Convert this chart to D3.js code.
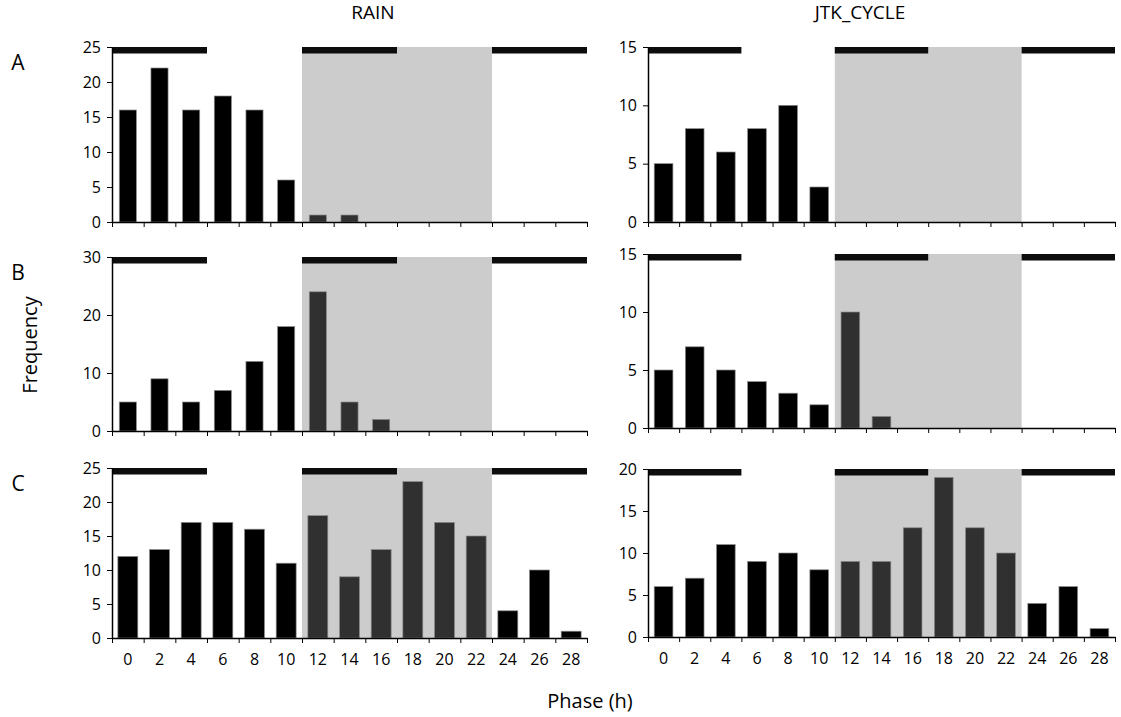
<html>
<script src='https://d3js.org/d3.v7.min.js'></script>
<style>
 body {margin:0; background:#fff;}
 text {font-family: 'Open Sans', sans-serif; fill:#000;}
 .axis path, .axis line {stroke:#000;}
</style>
<body onload='init()'>
<svg width=1121 height=717></svg>
<script>
// phase bins (h)
var phases = [0,2,4,6,8,10,12,14,16,18,20,22,24,26,28];

// frequencies per phase bin
var rainA = [16,22,16,18,16,6,1,1,0,0,0,0,0,0,0];
var jtkA  = [5,8,6,8,10,3,0,0,0,0,0,0,0,0,0];
var rainB = [5,9,5,7,12,18,24,5,2,0,0,0,0,0,0];
var jtkB  = [5,7,5,4,3,2,10,1,0,0,0,0,0,0,0];
var rainC = [12,13,17,17,16,11,18,9,13,23,17,15,4,10,1];
var jtkC  = [6,7,11,9,10,8,9,9,13,19,13,10,4,6,1];

// y tick labels
var ticksRainA = [0,5,10,15,20,25];
var ticksJtkA  = [0,5,10,15];
var ticksRainB = [0,10,20,30];
var ticksJtkB  = [0,5,10,15];
var ticksRainC = [0,5,10,15,20,25];
var ticksJtkC  = [0,5,10,15,20];

// dark period (bin index range, in band units) and light/dark bars on top
var darkSpan = [6,12];
var topBars = [[0,3],[6,9],[12,15]];

var rowLabels = ["A","B","C"];
var colTitles = ["RAIN","JTK_CYCLE"];

function init() {
  var svg = d3.select("svg");

  var cols = [{x0:112, x1:587}, {x0:648, x1:1115}];
  var rows = [{l:[47,222], r:[47,222]}, {l:[257,431], r:[254,428]}, {l:[468,638], r:[469,637]}];
  var barPad = [[0.46,0.40],[0.46,0.40],[0.37,0.40]];

  var panels = [
    [rainA, ticksRainA, 0, 0], [jtkA, ticksJtkA, 0, 1],
    [rainB, ticksRainB, 1, 0], [jtkB, ticksJtkB, 1, 1],
    [rainC, ticksRainC, 2, 0], [jtkC, ticksJtkC, 2, 1]
  ];

  panels.forEach(function(p) {
    var vals = p[0], ticks = p[1], r = p[2], c = p[3];
    var col = cols[c];
    var yr = c === 0 ? rows[r].l : rows[r].r;
    var top = yr[0], base = yr[1];

    var x = d3.scaleBand().domain(phases).range([col.x0, col.x1]).paddingInner(barPad[r][c]).paddingOuter(barPad[r][c]/2);
    var xl = d3.scaleLinear().domain([0, phases.length]).range([col.x0, col.x1]);
    var y = d3.scaleLinear().domain([0, d3.max(ticks)]).range([base, top]);

    var g = svg.append("g");

    // shaded dark period
    g.append("rect")
      .attr("x", xl(darkSpan[0])).attr("y", top)
      .attr("width", xl(darkSpan[1]) - xl(darkSpan[0]))
      .attr("height", base - top)
      .attr("fill", "#cccccc");

    // bars
    g.selectAll(".bar").data(phases.map(function(ph, i) { return {ph: ph, i: i, v: vals[i]}; }).filter(function(d) { return d.v > 0; }))
      .enter().append("rect")
      .attr("x", function(d) { return x(d.ph); })
      .attr("y", function(d) { return y(d.v); })
      .attr("width", x.bandwidth())
      .attr("height", function(d) { return base - y(d.v); })
      .attr("fill", function(d) { return (d.i >= darkSpan[0] && d.i < darkSpan[1]) ? "#303030" : "#000"; })
      .attr("stroke", "#8a8a8a").attr("stroke-width", 0.7);

    // light/dark bars on top
    g.selectAll(".tb").data(topBars).enter().append("rect")
      .attr("x", function(d) { return xl(d[0]); })
      .attr("y", top)
      .attr("width", function(d) { return xl(d[1]) - xl(d[0]); })
      .attr("height", 6.5)
      .attr("fill", "#0d0d0d");

    // y axis
    g.append("g").attr("class", "axis")
      .attr("transform", "translate(" + col.x0 + ",0)")
      .call(d3.axisLeft(y).tickValues(ticks).tickSize(5).tickSizeOuter(0).tickPadding(6))
      .call(function(a) { a.select(".domain").attr("stroke-width", 1.5); a.selectAll("text").style("font-size", "16px"); });

    // x axis: ticks at bin boundaries
    g.append("g").attr("class", "axis")
      .attr("transform", "translate(0," + base + ")")
      .call(d3.axisBottom(xl).tickValues(d3.range(0, phases.length + 1)).tickFormat("").tickSize(5).tickSizeOuter(0))
      .call(function(a) { a.select(".domain").attr("stroke-width", 1.5); });

    // x labels only on bottom row
    if (r === 2) {
      var xa = d3.scaleBand().domain(phases).range([col.x0, col.x1]);
      g.append("g").attr("class", "axis")
        .attr("transform", "translate(0," + base + ")")
        .call(d3.axisBottom(xa).tickSize(0).tickPadding(16))
        .call(function(a) { a.select(".domain").remove(); a.selectAll("text").style("font-size", "16px"); });
    }
  });

  // column titles
  svg.selectAll(".ct").data(colTitles).enter().append("text")
    .attr("x", function(d, i) { return [373, 860][i]; })
    .attr("y", 19)
    .attr("text-anchor", "middle")
    .style("font-size", "19px")
    .text(function(d) { return d; });

  // row letters
  svg.selectAll(".rl").data(rowLabels).enter().append("text")
    .attr("x", 18)
    .attr("y", function(d, i) { return [70, 280, 491][i]; })
    .attr("text-anchor", "middle")
    .style("font-size", "21px")
    .text(function(d) { return d; });

  svg.append("text")
    .attr("transform", "translate(37,345) rotate(-90)")
    .attr("text-anchor", "middle")
    .style("font-size", "20px")
    .text("Frequency");

  svg.append("text")
    .attr("x", 590).attr("y", 708)
    .attr("text-anchor", "middle")
    .style("font-size", "20px")
    .text("Phase (h)");
}
</script>
</body>
</html>
